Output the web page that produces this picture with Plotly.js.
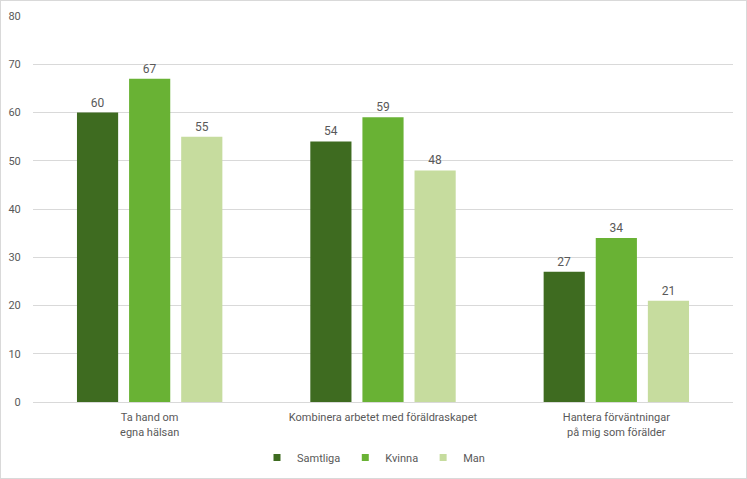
<!DOCTYPE html>
<html lang="en">
<head>
  <meta charset="UTF-8" />
  <title>Föräldraskap</title>
  <script src="https://cdn.plot.ly/plotly-3.0.1.min.js"></script>
  <style>
    body { margin: 0; background: #fff; }
    #chart { width: 745px; height: 477px; border: 1px solid #d9d9d9; }
  </style>
</head>
<body>
  <div id="chart"></div>
<script>
  const categories = [
    'Ta hand om<br>egna hälsan',
    'Kombinera arbetet med föräldraskapet',
    'Hantera förväntningar<br>på mig som förälder'
  ];
  const samtliga = [60, 54, 27];
  const kvinna = [67, 59, 34];
  const man = [55, 48, 21];

  const seriesNames = ['Samtliga', 'Kvinna', 'Man'];
  const colors = ['#3e6b20', '#69b234', '#c6dc9e'];
  const textGray = '#595959';

  const traces = [samtliga, kvinna, man].map((vals, i) => ({
    type: 'bar',
    name: seriesNames[i],
    x: categories,
    y: vals,
    marker: { color: colors[i] },
    text: vals.map(String),
    textposition: 'outside',
    textfont: { color: textGray, size: 12 },
    cliponaxis: false,
    showlegend: false,
    hoverinfo: 'x+y'
  }));

  // small square legend keys like the original
  seriesNames.forEach((name, i) => {
    traces.push({
      type: 'scatter',
      mode: 'markers',
      name: name,
      x: [categories[0]],
      y: [null],
      marker: { symbol: 'square', size: 7, color: colors[i] },
      hoverinfo: 'skip'
    });
  });

  Plotly.newPlot('chart', traces, {
    width: 745,
    height: 477,
    margin: { l: 32, r: 13, t: 15, b: 76 },
    font: { family: 'Roboto, sans-serif', size: 11, color: textGray },
    barmode: 'group',
    bargap: 0.33,
    bargroupgap: 0.21,
    paper_bgcolor: '#fff',
    plot_bgcolor: '#fff',
    yaxis: {
      range: [0, 80],
      dtick: 10,
      gridcolor: '#d9d9d9',
      zeroline: false,
      ticks: 'outside',
      ticklen: 9,
      tickcolor: 'rgba(0,0,0,0)',
      tickfont: { size: 11, color: textGray }
    },
    xaxis: {
      showline: true,
      linecolor: '#d9d9d9',
      ticks: '',
      ticklabelstandoff: 5,
      tickfont: { size: 11, color: textGray }
    },
    legend: {
      orientation: 'h',
      x: 0.5,
      xanchor: 'center',
      xref: 'container',
      yref: 'container',
      y: 0.043,
      yanchor: 'middle',
      font: { size: 11, color: textGray },
      itemwidth: 30,
      tracegroupgap: 0,
      traceorder: 'normal'
    },
    showlegend: true
  }, { displayModeBar: false });
</script>
</body>
</html>
